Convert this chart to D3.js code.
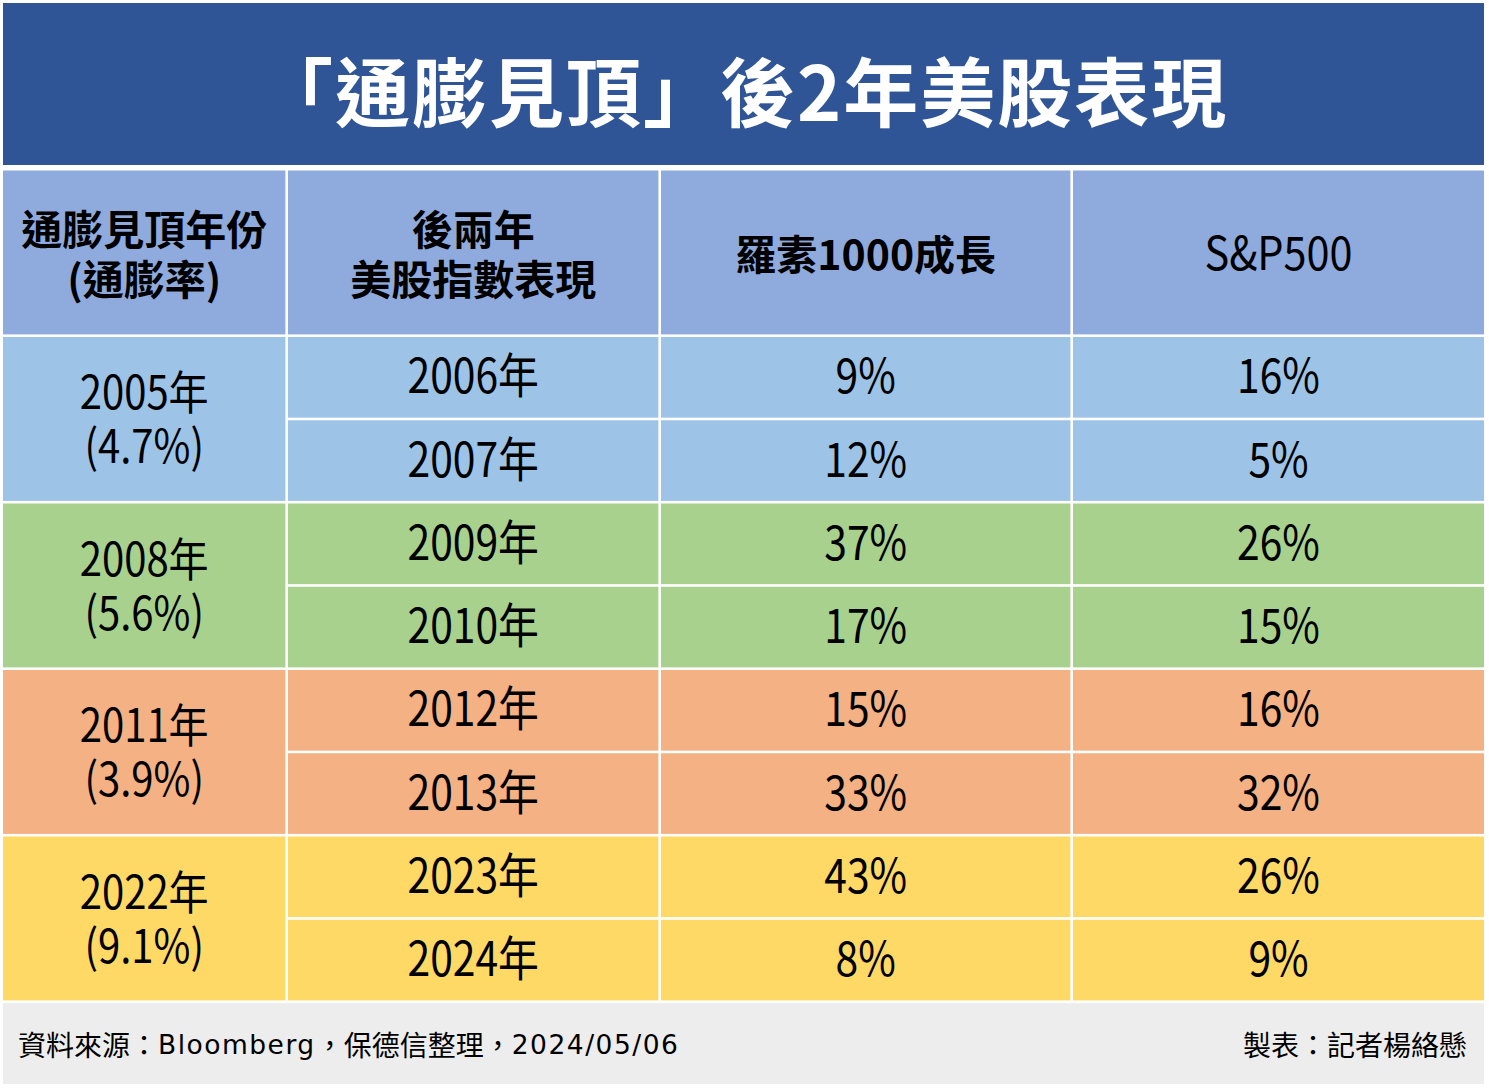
<!DOCTYPE html>
<html><head><meta charset="utf-8">
<script src="https://cdn.jsdelivr.net/npm/d3@7"></script>
<style>
html,body{margin:0;padding:0;background:#fff;}
svg{display:block;}
</style></head>
<body>
<svg id="c" width="1489" height="1089"></svg>
<script>
const title = "「通膨見頂」後2年美股表現";
const headers = [["通膨見頂年份","(通膨率)"],["後兩年","美股指數表現"],["羅素1000成長"],["S&P500"]];
const peakYears = ["2005年","2008年","2011年","2022年"];
const peakRates = ["(4.7%)","(5.6%)","(3.9%)","(9.1%)"];
const years = ["2006年","2007年","2009年","2010年","2012年","2013年","2023年","2024年"];
const russell = [9,12,37,17,15,33,43,8];
const sp500 = [16,5,26,15,16,32,26,9];
const groupColors = ["#9dc3e6","#a9d18e","#f4b183","#ffd966"];
const sourceParts = [["資料來源：","cjk"],["Bloomberg","lat"],["，保德信整理，","cjk"],["2024/05/06","lat"]];
const author = "製表：記者楊絡懸";

const svg = d3.select("#c");
const CJK = "'Noto Sans CJK TC','Noto Sans CJK SC',sans-serif";
const LAT = "'DejaVu Sans',sans-serif";
const gap = 2.6;
const colEdges = [3, 288, 661, 1073, 1484];
const colX = i => colEdges[i];
const colW = i => colEdges[i+1] - colEdges[i] - (i < 3 ? gap : 0);
const colC = i => (colEdges[i] + colEdges[i+1] - (i<3?gap:0)) / 2;
// row index scale: 0 = header top, 2 = first body row, 10 = footer top
const y = d3.scaleLinear().domain([0, 10]).range([170.5, 1003]);

// multi-line text helper (optionally horizontally condensed)
function ctext(cx, cy, lines, opt){
  const lh = opt.lh || 50;
  const t = svg.append("text")
    .attr("transform", `translate(${cx},${cy}) scale(${opt.sx||1},1)`)
    .attr("text-anchor","middle")
    .attr("font-family", opt.ff || CJK)
    .attr("font-weight", opt.fw || "normal")
    .attr("font-size", opt.fs)
    .attr("letter-spacing", opt.ls || 0)
    .attr("fill", opt.fill || "#000");
  const n = lines.length;
  lines.forEach((s,j)=>{
    t.append("tspan").attr("x",0)
      .attr("y", (j-(n-1)/2)*lh)
      .attr("dominant-baseline","central")
      .text(s);
  });
  return t;
}

// title band
svg.append("rect").attr("x",3).attr("y",3).attr("width",1481).attr("height",162).attr("fill","#2f5597");
ctext(743, 88, [title], {fs:75, fw:"bold", fill:"#fff", ls:2});

// header
headers.forEach((h,i)=>{
  svg.append("rect").attr("x",colX(i)).attr("y",y(0)).attr("width",colW(i)).attr("height",y(2)-y(0)-gap).attr("fill","#8faadc");
  const cy = (y(0)+y(2)-gap)/2;
  if (i===3) ctext(colC(i), cy-2, h, {fs:46, sx:0.9});
  else ctext(colC(i), cy, h, {fs:41, fw:"bold", lh:50});
});

// merged group cells
peakYears.forEach((p,g)=>{
  const top = y(2+g*2), bot = y(4+g*2)-gap;
  svg.append("rect").attr("x",colX(0)).attr("y",top).attr("width",colW(0)).attr("height",bot-top).attr("fill",groupColors[g]);
  const cy = (top+bot)/2;
  ctext(colC(0), cy-3, [p, peakRates[g]], {fs:46, sx:0.87, lh:54});
});

// body rows
years.forEach((yr,r)=>{
  const g = Math.floor(r/2);
  const top = y(2+r), bot = y(3+r)-gap;
  const cy = (top+bot)/2 - 5;
  const vals = [yr, russell[r]+"%", sp500[r]+"%"];
  vals.forEach((v,k)=>{
    const c = k+1;
    svg.append("rect").attr("x",colX(c)).attr("y",top).attr("width",colW(c)).attr("height",bot-top).attr("fill",groupColors[g]);
    ctext(colC(c), cy, [v], {fs:48, sx:0.85});
  });
});

// footer
svg.append("rect").attr("x",3).attr("y",y(10)).attr("width",1481).attr("height",1084-y(10)).attr("fill","#ededed");
const src = svg.append("text").attr("x",18).attr("y",1044).attr("dominant-baseline","central").attr("font-size",28).attr("fill","#000");
sourceParts.forEach(([s,kind])=>{
  src.append("tspan").attr("font-family", kind==="cjk"?CJK:LAT)
    .attr("font-size", kind==="cjk"?28:26.5)
    .attr("letter-spacing", kind==="lat"?1.5:0)
    .attr("dominant-baseline","central").text(s);
});
svg.append("text").attr("x",1467).attr("y",1044).attr("text-anchor","end").attr("dominant-baseline","central")
  .attr("font-family",CJK).attr("font-size",28).text(author);
</script>
</body></html>
